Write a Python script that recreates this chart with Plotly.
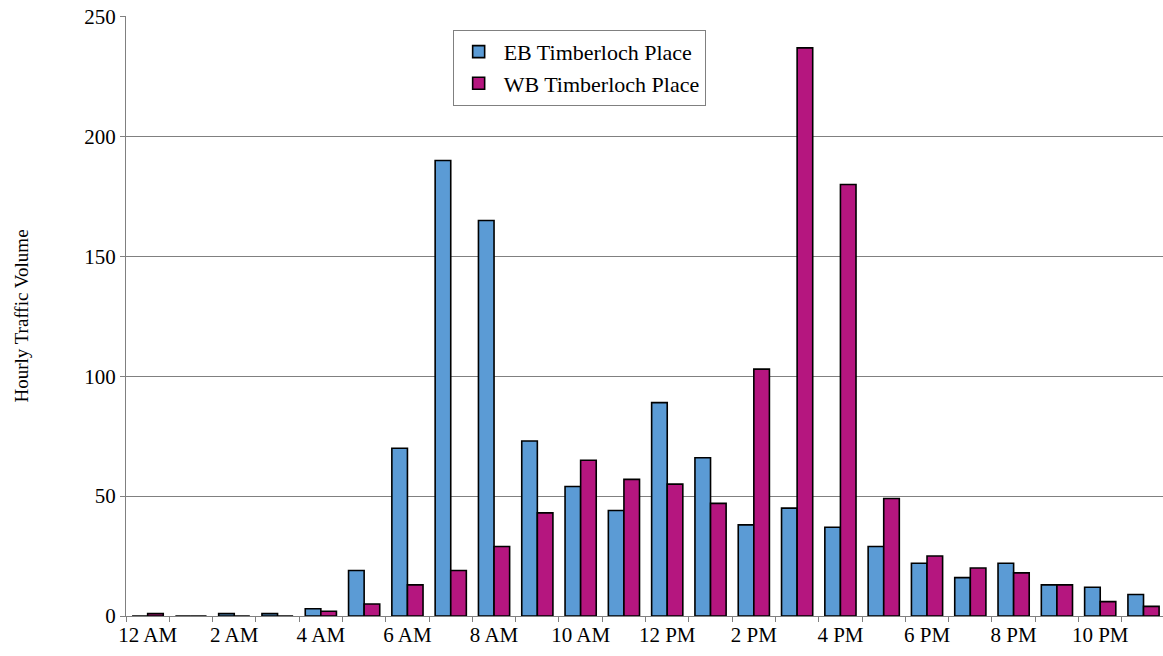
import plotly.graph_objects as go

hours = list(range(24))
tick_labels = ["12 AM", "2 AM", "4 AM", "6 AM", "8 AM", "10 AM",
               "12 PM", "2 PM", "4 PM", "6 PM", "8 PM", "10 PM"]
eb_values = [0, 0, 1, 1, 3, 19, 70, 190, 165, 73, 54, 44,
             89, 66, 38, 45, 37, 29, 22, 16, 22, 13, 12, 9]
wb_values = [1, 0, 0, 0, 2, 5, 13, 19, 29, 43, 65, 57,
             55, 47, 103, 237, 180, 49, 25, 20, 18, 13, 6, 4]

FONT = "Liberation Serif"

fig = go.Figure()
fig.add_trace(go.Bar(x=hours, y=eb_values, name="EB Timberloch Place",
                     marker=dict(color="#5B9BD5", line=dict(color="#000000", width=1.6))))
fig.add_trace(go.Bar(x=hours, y=wb_values, name="WB Timberloch Place",
                     marker=dict(color="#B5167F", line=dict(color="#000000", width=1.6))))

fig.update_layout(
    width=1163, height=656,
    margin=dict(l=126, r=0, t=16, b=40),
    paper_bgcolor="white", plot_bgcolor="white",
    barmode="group", bargap=0.28, bargroupgap=0,
    font=dict(family=FONT, size=21, color="#000000"),
    showlegend=True,
    legend=dict(x=0.315, y=0.977, xanchor="left", yanchor="top",
                bordercolor="#808080", borderwidth=1, bgcolor="white",
                font=dict(family=FONT, size=22), itemwidth=40,
                tracegroupgap=0),
    xaxis=dict(range=[-0.5, 23.45], tickmode="array",
               tickvals=hours[::2], ticktext=tick_labels,
               ticks="", showgrid=False, zeroline=False,
               showline=True, linecolor="#808080", linewidth=1,
               tickfont=dict(family=FONT, size=21),
               minor=dict(tickmode="linear", tick0=-0.5, dtick=1,
                          ticks="outside", ticklen=5, tickcolor="#808080",
                          showgrid=False)),
    yaxis=dict(range=[0, 250.3], tickmode="array", tickvals=[0, 50, 100, 150, 200, 250],
               ticks="outside", ticklen=5, tickcolor="#808080",
               showgrid=True, gridcolor="#808080", gridwidth=1,
               zeroline=False, showline=True, linecolor="#808080", linewidth=1,
               tickfont=dict(family=FONT, size=21),
               title=dict(text="Hourly Traffic Volume", standoff=50,
                          font=dict(family=FONT, size=19))),
)

fig.write_html("out.html", config={"displayModeBar": False},
               post_script="document.body.style.margin='0px';")
